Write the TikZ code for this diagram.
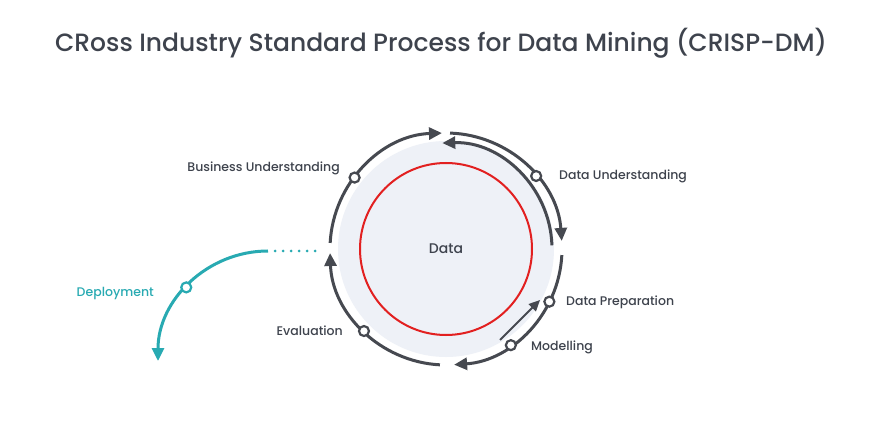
\documentclass[tikz,border=0pt]{standalone}
\usepackage{fontspec}
\setmainfont{Poppins}[UprightFont=* Medium]
\usepackage{tikz}
\usetikzlibrary{arrows.meta,positioning,calc}
\definecolor{ringgray}{RGB}{70,73,80}
\definecolor{textgray}{RGB}{62,67,77}
\definecolor{diskgray}{RGB}{238,241,247}
\definecolor{datared}{RGB}{226,32,32}
\definecolor{deployteal}{RGB}{40,170,178}

\begin{document}
\begin{tikzpicture}[x=1pt,y=1pt,
  ring/.style={ringgray,line width=3pt,-{Triangle[length=13pt,width=12pt]}},
  marker/.style={circle,draw=ringgray,fill=white,line width=2.2pt,minimum size=10pt,inner sep=0pt},
  lbl/.style={textgray,font=\fontsize{12.5}{14}\selectfont,inner sep=0pt}]
\useasboundingbox (0,0) rectangle (871,421);
\fill[white] (0,0) rectangle (871,421);
\node[textgray,font=\fontsize{25}{28}\selectfont] (title) at (441,378) {CRoss Industry Standard Process for Data Mining (CRISP-DM)};
\coordinate (c) at (446,172);
\fill[diskgray] (c) circle[radius=108];
\draw[datared,line width=2pt] (c) circle[radius=86];
\node[lbl,font=\fontsize{14}{16}\selectfont] (data) at (c) {Data};
% outer cycle, clockwise
\foreach \s/\e in {177/92,88/4,-3/-86,-93/-178}{
  \draw[ring] ([shift={(\s:116)}]c) arc[start angle=\s,end angle=\e,radius=116];}
\draw[ring] ([shift={(2:106)}]c) arc[start angle=2,end angle=92,radius=106];
\coordinate (mstart) at (500,81);
\coordinate (mend) at (540,121);
\draw[ringgray,line width=2pt,-{Triangle[length=11pt,width=10pt]}] (mstart) -- (mend);
\foreach \a/\n in {142/bu,39/du,-27/dp,-56/mo,-135/ev}{
  \node[marker] (\n) at ([shift={(\a:116)}]c) {};}
\node[lbl,anchor=east] (bulbl) at (340,253) {Business Understanding};
\node[lbl,anchor=west] (dulbl) at (559,245) {Data Understanding};
\node[lbl,anchor=west] (dplbl) at (566,119) {Data Preparation};
\node[lbl,anchor=west] (molbl) at (531,74) {Modelling};
\node[lbl,anchor=east] (evlbl) at (343,90) {Evaluation};
% deployment branch
\coordinate (dstart) at (268,170);
\coordinate (dgap) at (275,170);
\coordinate (dend) at (322,170);
\draw[deployteal,line width=3pt,line cap=round,dash pattern=on 0pt off 8pt] (dgap) -- (dend);
\draw[deployteal,line width=3pt,-{Triangle[length=13pt,width=12pt]}] (dstart) arc[start angle=90,end angle=180,radius=110];
\node[marker,draw=deployteal] (dep) at ([shift={(138:110)}]268,60) {};
\node[lbl,deployteal,anchor=east] (deplbl) at (154,127) {Deployment};
\end{tikzpicture}
\end{document}
